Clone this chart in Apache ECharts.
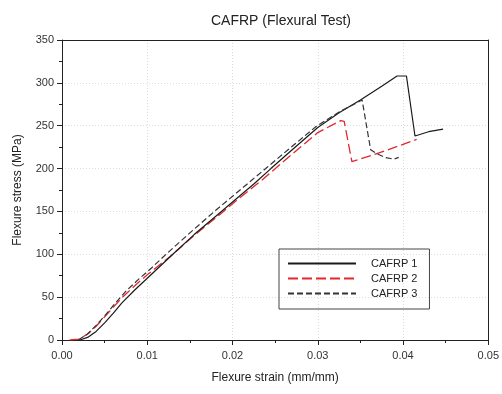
<!DOCTYPE html>
<html>
<head>
<meta charset="utf-8">
<script src="https://cdn.jsdelivr.net/npm/echarts@6/dist/echarts.min.js"></script>
<style>html,body{margin:0;padding:0;background:#fff}#c{width:502px;height:394px}</style>
</head>
<body>
<div id="c"></div>
<script>
const chartTitle = "CAFRP (Flexural Test)";
const xName = "Flexure strain (mm/mm)";
const yName = "Flexure stress (MPa)";
const seriesNames = ["CAFRP 1", "CAFRP 2", "CAFRP 3"];

const strain1 = [0.0021, 0.003, 0.004, 0.005, 0.006, 0.007, 0.0085, 0.010, 0.0115, 0.013, 0.0155, 0.0187, 0.020, 0.0225, 0.0245, 0.027, 0.030, 0.0325, 0.035, 0.0375, 0.0393, 0.0404, 0.0414, 0.043, 0.0447];
const stress1 = [0, 3, 10, 20, 31, 43, 58, 72, 86, 100, 123, 150, 161, 182, 200, 222, 248, 265, 280, 296, 308, 308, 238, 243, 246];

const strain2 = [0.0009, 0.002, 0.003, 0.004, 0.005, 0.006, 0.007, 0.0085, 0.010, 0.0115, 0.013, 0.0155, 0.0187, 0.0205, 0.0235, 0.027, 0.030, 0.0327, 0.0331, 0.0340, 0.0380, 0.0416];
const stress2 = [0, 1, 7, 16, 27, 38, 49, 63, 76, 88, 100, 122, 148, 163, 187, 217, 242, 256, 255, 208, 221, 234];

const strain3 = [0.0019, 0.003, 0.004, 0.005, 0.006, 0.0075, 0.009, 0.0105, 0.0122, 0.015, 0.018, 0.021, 0.024, 0.027, 0.0298, 0.0325, 0.0352, 0.0362, 0.0370, 0.0379, 0.0389, 0.0395];
const stress3 = [0, 7, 17, 28, 40, 57, 71, 84, 100, 125, 151, 176, 201, 226, 249, 266, 280, 222, 217, 213, 211, 213];

const xTicks = [0, 0.01, 0.02, 0.03, 0.04, 0.05];
const yTicks = [0, 50, 100, 150, 200, 250, 300, 350];

function pairs(xs, ys) { return xs.map((x, i) => [x, ys[i]]); }

const chart = echarts.init(document.getElementById('c'), null, {renderer: 'canvas'});
const font = "'Liberation Sans', Arial, sans-serif";
const axisCommon = {
  axisLine: {show: true, onZero: false, lineStyle: {color: '#222', width: 1}},
  axisTick: {show: true, inside: false, length: 5, lineStyle: {color: '#222'}},
  minorTick: {show: true, splitNumber: 2, length: 3, lineStyle: {color: '#222'}},
  splitLine: {show: true, lineStyle: {color: '#dcdcdc', type: [1, 2], width: 1}},
  axisLabel: {color: '#333', fontSize: 11, fontFamily: font},
  nameTextStyle: {color: '#222', fontSize: 12, fontFamily: font}
};
const frameAxis = {
  axisLine: {show: true, onZero: false, lineStyle: {color: '#222', width: 1}},
  axisTick: {show: false}, axisLabel: {show: false}, splitLine: {show: false}, minorTick: {show: false}
};

chart.setOption({
  animation: false,
  backgroundColor: '#fff',
  title: {
    text: chartTitle, left: 276, top: 9, textAlign: 'center',
    textStyle: {fontSize: 14, fontWeight: 'normal', color: '#222', fontFamily: font}
  },
  grid: {left: 62, right: 12, top: 40, bottom: 54},
  legend: {
    orient: 'vertical', left: 279, top: 249,
    data: seriesNames,
    itemWidth: 68, itemHeight: 10, itemGap: 4,
    padding: [9, 12, 10, 8],
    borderColor: '#444', borderWidth: 1,
    itemStyle: {opacity: 0},
    textStyle: {fontSize: 11, color: '#222', fontFamily: font, padding: [0, 0, 0, 10]}
  },
  xAxis: [
    Object.assign({}, axisCommon, {
      type: 'value', min: xTicks[0], max: xTicks[xTicks.length - 1], interval: 0.01,
      name: xName, nameLocation: 'middle', nameGap: 32,
      axisLabel: Object.assign({}, axisCommon.axisLabel, {margin: 10, formatter: v => v.toFixed(2)})
    }),
    Object.assign({}, frameAxis, {type: 'value', position: 'top', min: xTicks[0], max: xTicks[xTicks.length - 1]})
  ],
  yAxis: [
    Object.assign({}, axisCommon, {
      type: 'value', min: yTicks[0], max: yTicks[yTicks.length - 1], interval: 50,
      name: yName, nameLocation: 'middle', nameGap: 38, nameRotate: 90,
      axisLabel: Object.assign({}, axisCommon.axisLabel, {margin: 8})
    }),
    Object.assign({}, frameAxis, {type: 'value', position: 'right', min: yTicks[0], max: yTicks[yTicks.length - 1]})
  ],
  series: [
    {name: seriesNames[0], type: 'line', showSymbol: false, symbol: 'none', data: pairs(strain1, stress1),
     lineStyle: {color: '#1a1a1a', width: 1.2}, itemStyle: {color: '#1a1a1a'}, z: 3},
    {name: seriesNames[1], type: 'line', showSymbol: false, symbol: 'none', data: pairs(strain2, stress2),
     lineStyle: {color: '#e0282e', width: 1.3, type: [10, 4]}, itemStyle: {color: '#e0282e'}, z: 2},
    {name: seriesNames[2], type: 'line', showSymbol: false, symbol: 'none', data: pairs(strain3, stress3),
     lineStyle: {color: '#333', width: 1.2, type: [6, 3]}, itemStyle: {color: '#333'}, z: 4}
  ]
});
</script>
</body>
</html>
